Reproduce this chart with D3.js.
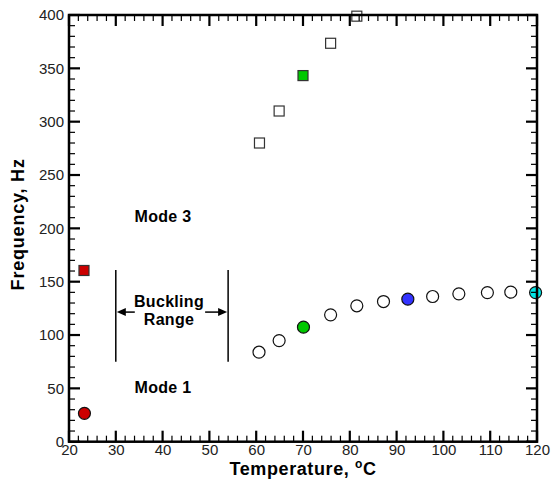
<!DOCTYPE html>
<html><head><meta charset="utf-8">
<script src="https://cdn.jsdelivr.net/npm/d3@7"></script>
<style>body{margin:0;background:#fff}svg{display:block}text{font-family:"Liberation Sans",Arial,sans-serif}</style>
</head><body><svg id="c" width="552" height="480"></svg>
<script>
// Mode 1 (circles)
const mode1Temp = [23.3, 60.6, 64.9, 70.1, 75.9, 81.5, 87.2, 92.4, 97.7, 103.3, 109.4, 114.4, 119.7];
const mode1Freq = [26.6, 83.9, 94.8, 107.4, 118.9, 127.4, 131.4, 133.6, 136.1, 138.6, 139.8, 140.2, 139.8];
const mode1Fill = ["#cc0000", "none", "none", "#00c800", "none", "none", "none", "#3333ff", "none", "none", "none", "none", "#00e6e6"];
// Mode 3 (squares)
const mode3Temp = [23.2, 60.7, 64.9, 70.0, 75.9, 81.5];
const mode3Freq = [160.5, 280, 310, 343.2, 373.5, 398.9];
const mode3Fill = ["#cc0000", "none", "none", "#00c800", "none", "none"];
const xTicks = [20, 30, 40, 50, 60, 70, 80, 90, 100, 110, 120];
const yTicks = [0, 50, 100, 150, 200, 250, 300, 350, 400];
const bucklingRange = [30, 54];
const bucklingFreq = [75, 161];
const arrowFreq = 121.5;

const svg = d3.select("#c");
const L = 69, R = 537, T = 15, B = 441.7;
const x = d3.scaleLinear().domain([20, 120]).range([L, R]);
const y = d3.scaleLinear().domain([0, 400]).range([B, T]);

const xMinor = d3.range(20, 121, 2).filter(v => v % 10 !== 0);
const yMinor = d3.range(0, 401, 10).filter(v => v % 50 !== 0);
const majorLen = 11, minorLen = 6;

// tick labels via d3 axes
const xb = svg.append("g").attr("transform", `translate(0,${B})`).call(d3.axisBottom(x).tickValues(xTicks).tickSize(0).tickPadding(3));
const yl = svg.append("g").attr("transform", `translate(${L},0)`).call(d3.axisLeft(y).tickValues(yTicks).tickSize(0).tickPadding(5));
[xb, yl].forEach(a => {
  a.select(".domain").remove();
  a.selectAll(".tick line").remove();
  a.selectAll("text").attr("font-size", 15).attr("fill", "#222").attr("font-family", "Liberation Sans, Arial, sans-serif");
});

// axis titles
const xt = svg.append("text").attr("x", 303).attr("y", 475).attr("text-anchor", "middle").attr("font-size", 18).attr("letter-spacing", 0.6).attr("font-weight", "bold");
xt.append("tspan").text("Temperature, ");
xt.append("tspan").attr("font-size", 12).attr("dy", -7).text("o");
xt.append("tspan").attr("dy", 7).text("C");
svg.append("text").attr("transform", `translate(24,${(T + B) / 2 - 4}) rotate(-90)`).attr("text-anchor", "middle").attr("font-size", 18).attr("letter-spacing", 0.8).attr("font-weight", "bold").text("Frequency, Hz");

// buckling range
bucklingRange.forEach(v => svg.append("line").attr("x1", x(v)).attr("x2", x(v)).attr("y1", y(bucklingFreq[0])).attr("y2", y(bucklingFreq[1])).attr("stroke", "#000").attr("stroke-width", 1.5));
const ay = y(arrowFreq);
const ax0 = x(bucklingRange[0]) + 1, ax1 = x(bucklingRange[1]) - 1;
svg.append("line").attr("x1", ax0 + 6).attr("x2", ax0 + 18).attr("y1", ay).attr("y2", ay).attr("stroke", "#000").attr("stroke-width", 1.5);
svg.append("line").attr("x1", ax1 - 6).attr("x2", ax1 - 22).attr("y1", ay).attr("y2", ay).attr("stroke", "#000").attr("stroke-width", 1.5);
svg.append("path").attr("d", `M${ax0},${ay}L${ax0 + 9},${ay - 4}L${ax0 + 9},${ay + 4}Z`).attr("fill", "#000");
svg.append("path").attr("d", `M${ax1},${ay}L${ax1 - 9},${ay - 4}L${ax1 - 9},${ay + 4}Z`).attr("fill", "#000");
const lbl = (tx, ty, s) => svg.append("text").attr("x", tx).attr("y", ty).attr("text-anchor", "middle").attr("font-size", 16).attr("letter-spacing", 0.3).attr("font-weight", "bold").text(s);
lbl(169, 307, "Buckling");
lbl(169, 325, "Range");
lbl(163, 222, "Mode 3");
lbl(163, 393, "Mode 1");

// squares
const sq = 10;
mode3Temp.forEach((t, i) => svg.append("rect").attr("x", x(t) - sq / 2).attr("y", y(mode3Freq[i]) - sq / 2).attr("width", sq).attr("height", sq)
  .attr("fill", mode3Fill[i] === "none" ? "#fff" : mode3Fill[i]).attr("stroke", "#333").attr("stroke-width", 1.2));
// circles
mode1Temp.forEach((t, i) => svg.append("circle").attr("cx", x(t)).attr("cy", y(mode1Freq[i])).attr("r", 6)
  .attr("fill", mode1Fill[i] === "none" ? "#fff" : mode1Fill[i]).attr("stroke", "#111").attr("stroke-width", 1.2));

// ticks (inward on all four sides), drawn on top
function addXTicks(vals, len, w) {
  vals.forEach(v => {
    svg.append("rect").attr("x", x(v) - w / 2).attr("y", B - len).attr("width", w).attr("height", len).attr("fill", "#000");
    svg.append("rect").attr("x", x(v) - w / 2).attr("y", T).attr("width", w).attr("height", len).attr("fill", "#000");
  });
}
function addYTicks(vals, len, w) {
  vals.forEach(v => {
    svg.append("rect").attr("x", L).attr("y", y(v) - w / 2).attr("width", len).attr("height", w).attr("fill", "#000");
    svg.append("rect").attr("x", R - len).attr("y", y(v) - w / 2).attr("width", len).attr("height", w).attr("fill", "#000");
  });
}
addXTicks(xMinor, minorLen, 1.2);
addYTicks(yMinor, minorLen, 1.2);
addXTicks(xTicks, majorLen, 2.2);
addYTicks(yTicks, majorLen, 2.2);

// frame
svg.append("rect").attr("x", L).attr("y", T).attr("width", R - L).attr("height", B - T).attr("fill", "none").attr("stroke", "#000").attr("stroke-width", 2.5);
</script></body></html>
